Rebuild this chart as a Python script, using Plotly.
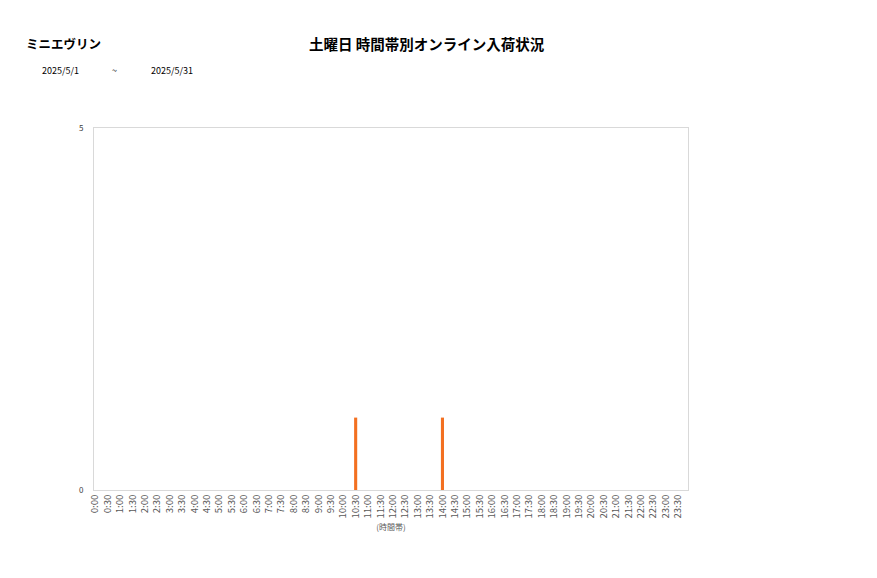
import plotly.graph_objects as go

# time slots (every 30 minutes)
slots = ["%d:%s" % (h, m) for h in range(24) for m in ("00", "30")]
counts = [0] * 48
counts[slots.index("10:30")] = 1
counts[slots.index("14:00")] = 1

store = "ミニエヴリン"
title = "土曜日 時間帯別オンライン入荷状況"
date_from = "2025/5/1"
date_to = "2025/5/31"

font = "Noto Sans CJK JP"

fig = go.Figure()
fig.add_trace(go.Bar(x=slots, y=counts, marker_color="#f37021", marker_line_width=0))

fig.update_layout(
    width=877, height=578,
    margin=dict(l=86, r=197, t=120, b=96),
    plot_bgcolor="white", paper_bgcolor="white",
    font=dict(family=font, color="#404040", size=9),
    bargap=0.75,
    showlegend=False,
)
fig.update_xaxes(
    type="category", range=[-0.1, 47.8], tickangle=-90,
    tickfont=dict(size=9.5, color="#595959"),
    showline=True, linecolor="#d9d9d9", mirror=True, showgrid=False,
    ticks="", title=dict(text="(時間帯)", font=dict(size=8, color="#595959"), standoff=6),
)
fig.update_yaxes(
    range=[0, 5], tickvals=[0, 5], tickfont=dict(size=8, color="#404040"),
    showline=True, linecolor="#d9d9d9", mirror=True, showgrid=False,
    zeroline=False, ticks="", ticklabelstandoff=8,
)

fig.add_annotation(text="<b>" + store + "</b>", xref="paper", yref="paper", x=-0.118, y=1.234,
                   xanchor="left", yanchor="middle", showarrow=False,
                   font=dict(size=12.5, color="#000000", family=font))
fig.add_annotation(text="<b>" + title + "</b>", xref="paper", yref="paper", x=0.561, y=1.234,
                   xanchor="center", yanchor="middle", showarrow=False,
                   font=dict(size=14.5, color="#000000", family=font))
fig.add_annotation(text=date_from, xref="paper", yref="paper", x=-0.091, y=1.159,
                   xanchor="left", yanchor="middle", showarrow=False,
                   font=dict(size=9, color="#000000", family=font))
fig.add_annotation(text="~", xref="paper", yref="paper", x=0.035, y=1.159,
                   xanchor="center", yanchor="middle", showarrow=False,
                   font=dict(size=9, color="#000000", family=font))
fig.add_annotation(text=date_to, xref="paper", yref="paper", x=0.092, y=1.159,
                   xanchor="left", yanchor="middle", showarrow=False,
                   font=dict(size=9, color="#000000", family=font))

fig.write_html("out.html")
